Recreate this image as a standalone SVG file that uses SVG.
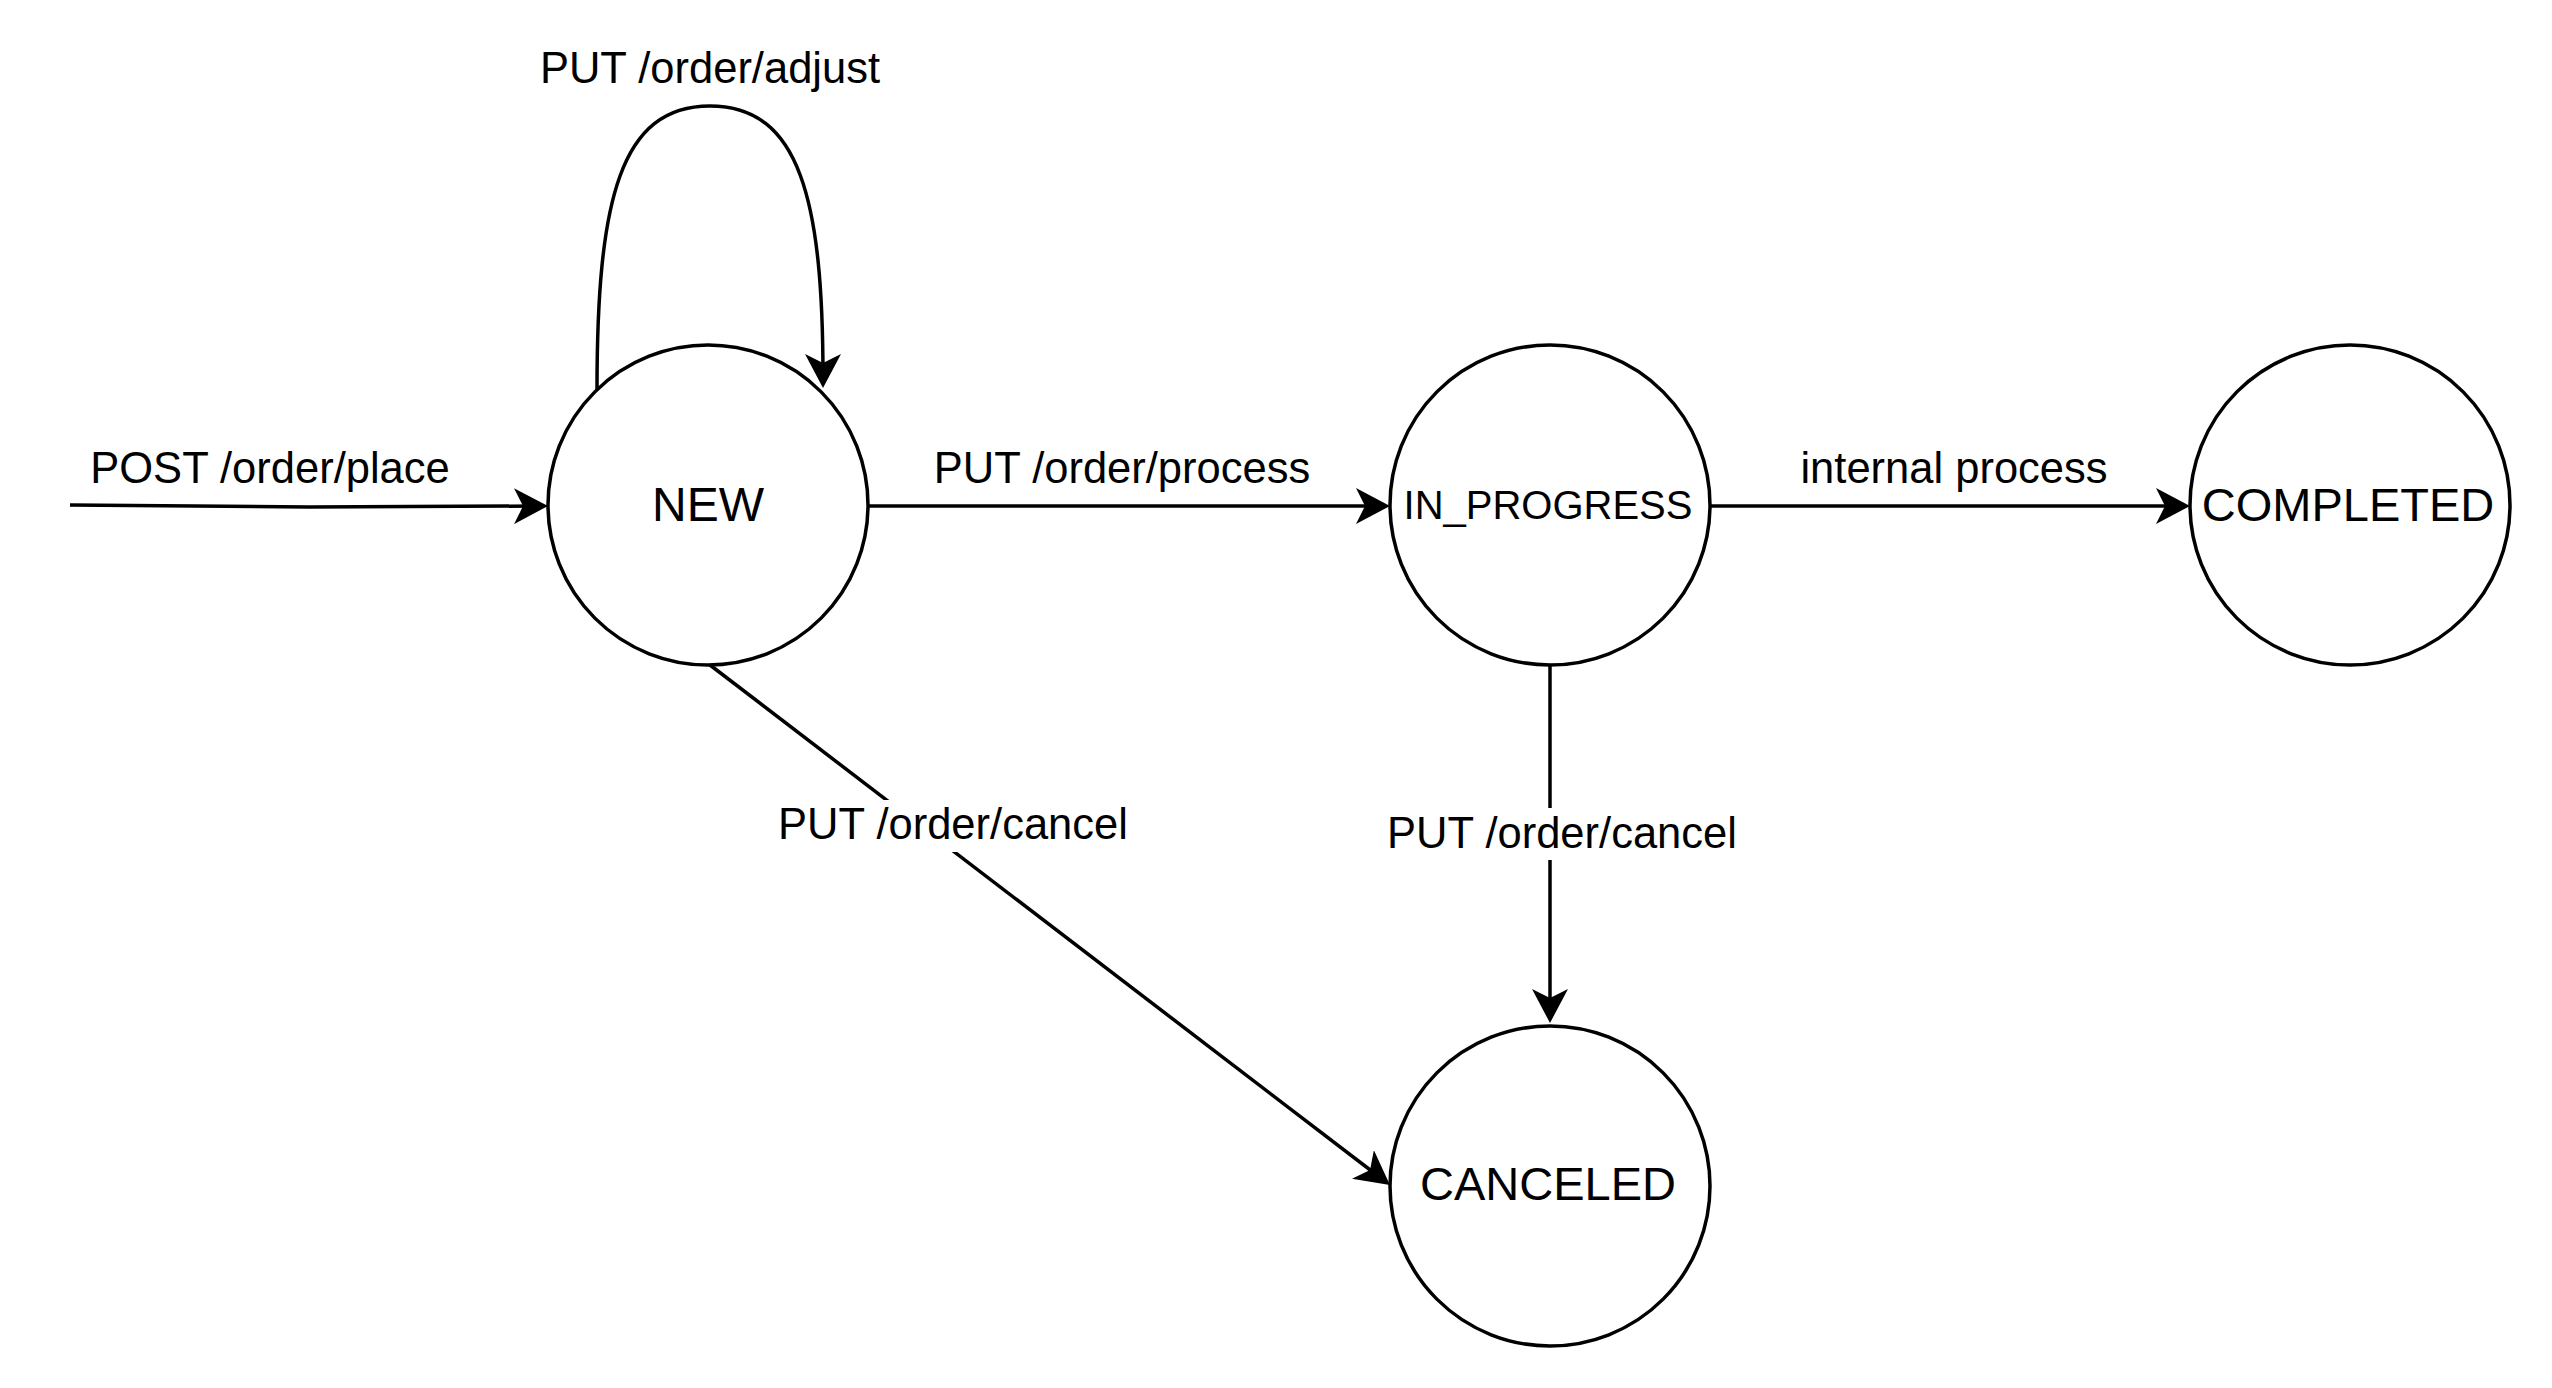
<svg xmlns="http://www.w3.org/2000/svg" width="2552" height="1388" viewBox="0 0 2552 1388">
<style>
.node{fill:#ffffff;stroke:#000000;stroke-width:3.5}
.edge{fill:none;stroke:#000000;stroke-width:3.5}
.ntext{font-family:"Liberation Sans",Arial,sans-serif;font-size:48px;fill:#000000;text-anchor:middle}
.etext{font-family:"Liberation Sans",Arial,sans-serif;font-size:43.5px;fill:#000000;text-anchor:middle}
.lbg{fill:#ffffff;stroke:none}
</style>
<defs>
<marker id="arrow" markerUnits="userSpaceOnUse" markerWidth="36" markerHeight="36" viewBox="0 0 36 36" refX="24" refY="18" orient="auto">
<path d="M34 18 L0 0 L9 18 L0 36 Z" fill="#000000"/>
</marker>
</defs>
<rect width="2552" height="1388" fill="#ffffff"/>
<g id="connectors">
<g id="e-place">
<path class="edge" d="M70 505 L309 507 L538 506" marker-end="url(#arrow)"/>
<text class="etext" x="270" y="483">POST /order/place</text>
</g>
<g id="e-adjust">
<path class="edge" d="M597 390 C597 200 620 106 710 106 C800 106 823 200 823 378" marker-end="url(#arrow)"/>
<text class="etext" x="710" y="83">PUT /order/adjust</text>
</g>
<g id="e-process">
<path class="edge" d="M868 506 L1380 506" marker-end="url(#arrow)"/>
<text class="etext" x="1122" y="483">PUT /order/process</text>
</g>
<g id="e-internal">
<path class="edge" d="M1710 506 L2180 506" marker-end="url(#arrow)"/>
<text class="etext" x="1954" y="483">internal process</text>
</g>
<g id="e-cancel1">
<path class="edge" d="M710 665 L1382 1179" marker-end="url(#arrow)"/>
<rect class="lbg" x="779" y="800" width="349" height="52"/>
<text class="etext" x="953" y="839">PUT /order/cancel</text>
</g>
<g id="e-cancel2">
<path class="edge" d="M1550 665 L1550 1013" marker-end="url(#arrow)"/>
<rect class="lbg" x="1388" y="808" width="349" height="52"/>
<text class="etext" x="1562" y="848">PUT /order/cancel</text>
</g>
</g>
<g id="node-new">
<circle class="node" cx="708" cy="505" r="160"/>
<text class="ntext" x="708" y="521">NEW</text>
</g>
<g id="node-in-progress">
<circle class="node" cx="1550" cy="505" r="160"/>
<text class="ntext" x="1548" y="519" style="font-size:40px">IN_PROGRESS</text>
</g>
<g id="node-completed">
<circle class="node" cx="2350" cy="505" r="160"/>
<text class="ntext" x="2348" y="521" style="font-size:47px">COMPLETED</text>
</g>
<g id="node-canceled">
<circle class="node" cx="1550" cy="1186" r="160"/>
<text class="ntext" x="1548" y="1200" style="font-size:47px">CANCELED</text>
</g>
</svg>
